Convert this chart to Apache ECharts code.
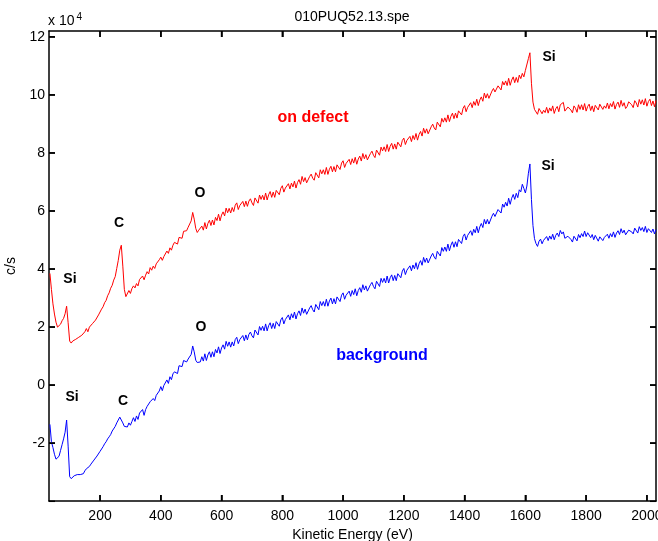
<!DOCTYPE html>
<html>
<head>
<meta charset="utf-8">
<script src="https://cdn.jsdelivr.net/npm/echarts@6/dist/echarts.min.js"></script>
<style>
  html, body { margin: 0; padding: 0; background: #fff; }
  #chart { width: 658px; height: 541px; }
</style>
</head>
<body>
<div id="chart"></div>
<script>
// Spectrum channel calibration: first channel energy and channel width (eV)
const energyStart = 35;
const energyStep = 5;

// Intensity on the defect, in units of 10^4 c/s (one row = 50 eV)
const onDefect = [
  3.85, 3.30, 2.80, 2.45, 2.17, 2.00, 2.03, 2.10, 2.22, 2.30,
  2.46, 2.72, 2.15, 1.52, 1.45, 1.52, 1.50, 1.58, 1.56, 1.65,
  1.66, 1.72, 1.70, 1.84, 1.95, 1.84, 2.00, 2.02, 2.12, 2.12,
  2.24, 2.30, 2.42, 2.48, 2.62, 2.70, 2.84, 2.92, 3.08, 3.18,
  3.34, 3.44, 3.62, 3.74, 4.02, 4.30, 4.65, 4.82, 4.10, 3.30,
  3.05, 3.06, 3.26, 3.16, 3.33, 3.42, 3.35, 3.50, 3.42, 3.64,
  3.59, 3.76, 3.63, 3.79, 3.91, 3.83, 4.05, 3.96, 4.10, 4.02,
  4.18, 4.12, 4.32, 4.41, 4.30, 4.43, 4.44, 4.62, 4.54, 4.73,
  4.65, 4.82, 4.92, 4.87, 4.86, 5.09, 5.09, 5.06, 5.30, 5.25,
  5.32, 5.44, 5.46, 5.66, 5.95, 5.72, 5.40, 5.26, 5.34, 5.30,
  5.48, 5.34, 5.60, 5.38, 5.57, 5.68, 5.50, 5.69, 5.52, 5.78,
  5.67, 5.89, 5.66, 5.86, 5.97, 5.83, 6.10, 5.94, 6.09, 5.93,
  6.12, 5.98, 6.20, 6.28, 6.05, 6.19, 6.13, 6.33, 6.15, 6.34,
  6.16, 6.34, 6.42, 6.28, 6.19, 6.45, 6.39, 6.27, 6.55, 6.40,
  6.54, 6.38, 6.62, 6.38, 6.56, 6.67, 6.47, 6.65, 6.47, 6.71,
  6.70, 6.56, 6.78, 6.87, 6.65, 6.79, 6.73, 6.94, 6.76, 6.96,
  6.83, 7.03, 6.79, 6.98, 7.08, 6.92, 7.19, 7.01, 7.15, 6.97,
  7.01, 7.19, 7.27, 7.13, 7.06, 7.32, 7.26, 7.14, 7.42, 7.28,
  7.42, 7.26, 7.50, 7.26, 7.44, 7.54, 7.35, 7.53, 7.35, 7.59,
  7.57, 7.43, 7.65, 7.73, 7.50, 7.64, 7.58, 7.78, 7.60, 7.80,
  7.65, 7.85, 7.61, 7.79, 7.89, 7.72, 7.98, 7.80, 7.94, 7.76,
  7.80, 7.98, 8.06, 7.92, 7.84, 8.10, 8.04, 7.92, 8.20, 8.07,
  8.21, 8.05, 8.29, 8.05, 8.23, 8.33, 8.13, 8.31, 8.13, 8.37,
  8.35, 8.21, 8.43, 8.51, 8.29, 8.43, 8.37, 8.57, 8.39, 8.60,
  8.46, 8.67, 8.44, 8.63, 8.74, 8.58, 8.85, 8.68, 8.83, 8.66,
  8.71, 8.90, 8.99, 8.86, 8.79, 9.06, 9.01, 8.90, 9.19, 9.06,
  9.21, 9.06, 9.31, 9.08, 9.26, 9.37, 9.18, 9.37, 9.20, 9.45,
  9.44, 9.31, 9.54, 9.63, 9.42, 9.57, 9.52, 9.73, 9.56, 9.77,
  9.64, 9.85, 9.63, 9.82, 9.93, 9.78, 10.06, 9.89, 10.04, 9.88,
  9.93, 10.13, 10.22, 10.10, 10.04, 10.31, 10.27, 10.17, 10.46, 10.34,
  10.48, 10.32, 10.57, 10.33, 10.51, 10.62, 10.42, 10.60, 10.43, 10.68,
  10.56, 10.74, 10.62, 10.84, 10.90, 11.25, 11.45, 10.40, 9.75, 9.50,
  9.49, 9.33, 9.53, 9.59, 9.35, 9.47, 9.39, 9.57, 9.37, 9.55,
  9.44, 9.62, 9.36, 9.52, 9.60, 9.42, 9.66, 9.70, 9.74, 9.44,
  9.42, 9.58, 9.64, 9.48, 9.38, 9.62, 9.54, 9.40, 9.66, 9.50,
  9.66, 9.48, 9.70, 9.44, 9.60, 9.68, 9.46, 9.62, 9.42, 9.64,
  9.64, 9.48, 9.68, 9.74, 9.50, 9.62, 9.54, 9.72, 9.52, 9.70,
  9.59, 9.77, 9.51, 9.67, 9.75, 9.57, 9.81, 9.61, 9.73, 9.53,
  9.60, 9.76, 9.82, 9.66, 9.56, 9.80, 9.72, 9.58, 9.84, 9.68,
  9.83, 9.65, 9.87, 9.61, 9.77, 9.85, 9.63, 9.79, 9.59, 9.81
];

// Background intensity, in units of 10^4 c/s (one row = 50 eV)
const background = [
  -1.35, -1.95, -2.15, -2.38, -2.55, -2.58, -2.45, -2.25, -2.05, -1.85,
  -1.62, -1.20, -2.10, -3.15, -3.22, -3.18, -3.12, -3.16, -3.08, -3.12,
  -3.08, -3.02, -3.05, -2.95, -2.88, -2.92, -2.80, -2.72, -2.68, -2.58,
  -2.52, -2.44, -2.38, -2.28, -2.22, -2.12, -2.02, -1.95, -1.85, -1.78,
  -1.70, -1.58, -1.52, -1.42, -1.30, -1.20, -1.10, -1.08, -1.30, -1.42,
  -1.45, -1.44, -1.30, -1.38, -1.25, -1.12, -1.25, -1.06, -1.18, -0.96,
  -1.02, -0.84, -1.04, -0.84, -0.73, -0.76, -0.57, -0.61, -0.46, -0.53,
  -0.35, -0.38, -0.20, -0.05, -0.19, -0.01, -0.02, 0.18, 0.06, 0.29,
  0.19, 0.39, 0.46, 0.45, 0.40, 0.67, 0.63, 0.64, 0.85, 0.81,
  0.80, 0.90, 0.86, 1.06, 1.35, 1.15, 0.86, 0.78, 0.84, 0.80,
  0.98, 0.83, 1.08, 0.85, 1.04, 1.15, 0.96, 1.15, 0.98, 1.23,
  1.11, 1.32, 1.09, 1.28, 1.39, 1.24, 1.51, 1.34, 1.49, 1.31,
  1.49, 1.35, 1.57, 1.65, 1.43, 1.57, 1.51, 1.71, 1.53, 1.73,
  1.56, 1.75, 1.83, 1.70, 1.63, 1.90, 1.84, 1.73, 2.02, 1.89,
  2.03, 1.87, 2.11, 1.87, 2.05, 2.15, 1.95, 2.13, 1.95, 2.19,
  2.17, 2.03, 2.25, 2.33, 2.11, 2.26, 2.21, 2.42, 2.25, 2.46,
  2.32, 2.52, 2.28, 2.46, 2.56, 2.40, 2.66, 2.48, 2.62, 2.44,
  2.48, 2.66, 2.74, 2.60, 2.52, 2.78, 2.72, 2.60, 2.88, 2.74,
  2.88, 2.72, 2.96, 2.72, 2.90, 3.00, 2.80, 2.98, 2.80, 3.04,
  3.02, 2.88, 3.10, 3.18, 2.96, 3.10, 3.04, 3.24, 3.06, 3.26,
  3.12, 3.32, 3.08, 3.26, 3.36, 3.20, 3.46, 3.28, 3.42, 3.24,
  3.28, 3.46, 3.54, 3.40, 3.32, 3.58, 3.52, 3.40, 3.68, 3.54,
  3.68, 3.52, 3.76, 3.52, 3.70, 3.80, 3.60, 3.78, 3.60, 3.84,
  3.83, 3.70, 3.93, 4.02, 3.81, 3.96, 3.90, 4.11, 3.94, 4.14,
  4.01, 4.22, 3.99, 4.18, 4.29, 4.13, 4.40, 4.23, 4.38, 4.21,
  4.26, 4.45, 4.54, 4.41, 4.34, 4.61, 4.56, 4.45, 4.74, 4.61,
  4.76, 4.61, 4.86, 4.63, 4.82, 4.94, 4.75, 4.94, 4.77, 5.02,
  5.01, 4.88, 5.12, 5.21, 5.00, 5.16, 5.11, 5.32, 5.16, 5.37,
  5.25, 5.47, 5.25, 5.45, 5.57, 5.43, 5.71, 5.55, 5.71, 5.55,
  5.61, 5.82, 5.92, 5.81, 5.76, 6.05, 6.02, 5.93, 6.24, 6.13,
  6.30, 6.17, 6.44, 6.23, 6.44, 6.57, 6.40, 6.61, 6.46, 6.73,
  6.66, 6.92, 6.78, 6.62, 6.86, 7.30, 7.62, 6.40, 5.50, 5.05,
  4.88, 4.78, 4.96, 5.03, 4.87, 4.99, 4.95, 5.12, 4.98, 5.14,
  5.03, 5.20, 5.01, 5.16, 5.24, 5.12, 5.33, 5.21, 5.28, 5.06,
  5.02, 5.13, 5.16, 5.02, 4.93, 5.13, 5.08, 4.97, 5.19, 5.08,
  5.22, 5.12, 5.31, 5.12, 5.25, 5.30, 5.08, 5.19, 5.01, 5.16,
  5.11, 4.96, 5.11, 5.16, 4.98, 5.09, 5.03, 5.20, 5.06, 5.22,
  5.11, 5.28, 5.09, 5.24, 5.32, 5.19, 5.39, 5.24, 5.34, 5.18,
  5.20, 5.34, 5.40, 5.28, 5.21, 5.41, 5.36, 5.24, 5.46, 5.33,
  5.43, 5.29, 5.47, 5.26, 5.39, 5.45, 5.26, 5.38, 5.21, 5.36
];

// Axis ticks
const energyTicks = [200, 400, 600, 800, 1000, 1200, 1400, 1600, 1800, 2000];
const countTicks = [-4, -2, 0, 2, 4, 6, 8, 10, 12];
const countTickLabels = [-2, 0, 2, 4, 6, 8, 10, 12];

// Peak and curve labels: [energy, intensity, text]
const peakLabels = [
  [101, 3.66, 'Si'], [263, 5.59, 'C'], [529, 6.62, 'O'], [1678, 11.31, 'Si'],
  [108, -0.41, 'Si'], [276, -0.55, 'C'], [532, 2.00, 'O'], [1675, 7.55, 'Si']
];
const curveLabels = [
  [901, 9.21, 'on defect', '#ff0000'],
  [1128, 1.03, 'background', '#0000ff']
];

const energyRange = [32, 2030];
const countRange = [-3.99, 12.2];

function toPairs(values) {
  return values.map((v, i) => [energyStart + i * energyStep, v]);
}

const font = 'Liberation Sans, Arial, Helvetica, sans-serif';
const chart = echarts.init(document.getElementById('chart'), null, { renderer: 'canvas' });

const frameLine = { show: true, onZero: false, lineStyle: { color: '#000', width: 1.5 } };
const plainNumber = v => String(v);
const TICK_LEN = 6;

function frameTicks(values) {
  return { show: true, inside: true, length: TICK_LEN, customValues: values, lineStyle: { color: '#000', width: 1.5 } };
}

// Inward tick marks on all four sides of the plot frame
function tickSegment(x1, y1, x2, y2) {
  return { type: 'line', shape: { x1: x1, y1: y1, x2: x2, y2: y2 }, style: { stroke: '#000', lineWidth: 1.5, fill: null } };
}
function renderEnergyTick(params, api) {
  const cs = params.coordSys;
  const x = api.coord([api.value(0), api.value(1)])[0];
  const top = cs.y, bottom = cs.y + cs.height;
  return { type: 'group', children: [
    tickSegment(x, bottom, x, bottom - TICK_LEN),
    tickSegment(x, top, x, top + TICK_LEN)
  ] };
}
function renderCountTick(params, api) {
  const cs = params.coordSys;
  const y = api.coord([api.value(0), api.value(1)])[1];
  const left = cs.x, right = cs.x + cs.width;
  return { type: 'group', children: [
    tickSegment(left, y, left + TICK_LEN, y),
    tickSegment(right, y, right - TICK_LEN, y)
  ] };
}

chart.setOption({
  animation: false,
  backgroundColor: '#fff',
  title: {
    text: '010PUQ52.13.spe',
    left: 347, top: 5, textAlign: 'center',
    textStyle: { fontFamily: font, fontSize: 14, fontWeight: 'normal', color: '#000' }
  },
  graphic: [{
    type: 'text', left: 48, top: 12,
    style: {
      text: 'x 10{sup|4}',
      font: '14px ' + font, fill: '#000',
      rich: { sup: { fontSize: 10, fontFamily: font, fill: '#000', verticalAlign: 'top', padding: [0, 0, 8, 2] } }
    }
  }],
  grid: { left: 49, right: 2, top: 31, bottom: 40, outerBoundsMode: 'none', containLabel: false },
  xAxis: [{
    type: 'value', min: energyRange[0], max: energyRange[1], position: 'bottom',
    name: 'Kinetic Energy (eV)', nameLocation: 'middle', nameGap: 25,
    nameTextStyle: { fontFamily: font, fontSize: 14, color: '#000' },
    axisLine: frameLine,
    axisTick: frameTicks(energyTicks),
    axisLabel: { customValues: energyTicks, formatter: plainNumber, margin: 8, fontFamily: font, fontSize: 14, color: '#000' },
    splitLine: { show: false }
  }, {
    type: 'value', min: energyRange[0], max: energyRange[1], position: 'top',
    axisLine: frameLine,
    axisTick: frameTicks(energyTicks),
    axisLabel: { show: false, customValues: energyTicks },
    splitLine: { show: false }
  }],
  yAxis: [{
    type: 'value', min: countRange[0], max: countRange[1], position: 'left',
    name: 'c/s', nameLocation: 'middle', nameGap: 23, nameRotate: 90,
    nameTextStyle: { fontFamily: font, fontSize: 14, color: '#000' },
    axisLine: frameLine,
    axisTick: frameTicks(countTicks),
    axisLabel: { customValues: countTickLabels, formatter: plainNumber, margin: 4, fontFamily: font, fontSize: 14, color: '#000' },
    splitLine: { show: false }
  }, {
    type: 'value', min: countRange[0], max: countRange[1], position: 'right',
    axisLine: frameLine,
    axisTick: frameTicks(countTicks),
    axisLabel: { show: false, customValues: countTicks },
    splitLine: { show: false }
  }],
  series: [{
    name: 'on defect', type: 'line', data: toPairs(onDefect),
    showSymbol: false, symbol: 'none', clip: true,
    lineStyle: { color: '#ff0000', width: 1 }
  }, {
    name: 'background', type: 'line', data: toPairs(background),
    showSymbol: false, symbol: 'none', clip: true,
    lineStyle: { color: '#0000ff', width: 1 }
  }, {
    name: 'energy ticks', type: 'custom', coordinateSystem: 'cartesian2d', z: 10,
    silent: true, clip: false,
    data: energyTicks.map(v => [v, 0]),
    renderItem: renderEnergyTick
  }, {
    name: 'count ticks', type: 'custom', coordinateSystem: 'cartesian2d', z: 10,
    silent: true, clip: false,
    data: countTicks.map(v => [energyTicks[0], v]),
    renderItem: renderCountTick
  }, {
    name: 'peaks', type: 'scatter', symbolSize: 0, silent: true,
    itemStyle: { opacity: 0 },
    data: peakLabels.map(d => ({ value: [d[0], d[1]], name: d[2] })),
    label: {
      show: true, position: 'inside', formatter: p => p.name,
      fontFamily: font, fontSize: 14, fontWeight: 'bold', color: '#000',
      textBorderWidth: 0, opacity: 1
    }
  }, {
    name: 'curves', type: 'scatter', symbolSize: 0, silent: true,
    itemStyle: { opacity: 0 },
    data: curveLabels.map(d => ({
      value: [d[0], d[1]], name: d[2],
      label: { color: d[3] }
    })),
    label: {
      show: true, position: 'inside', formatter: p => p.name,
      fontFamily: font, fontSize: 16, fontWeight: 'bold',
      textBorderWidth: 0, opacity: 1
    }
  }]
});
</script>
</body>
</html>
